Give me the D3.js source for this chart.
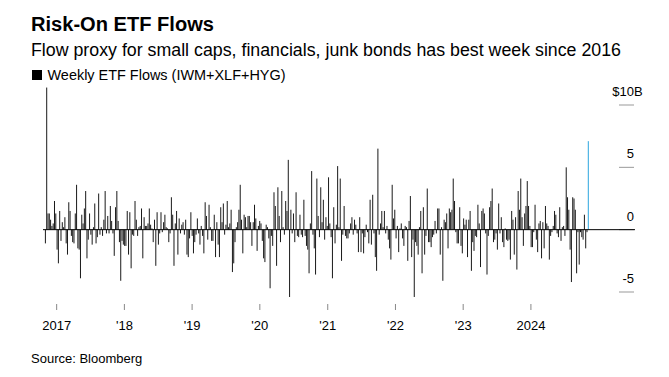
<!DOCTYPE html>
<html>
<head>
<meta charset="utf-8">
<script src="https://cdn.jsdelivr.net/npm/d3@7"></script>
<style>
  body { margin: 0; background: #fff; }
  svg { display: block; font-family: "Liberation Sans", Arial, sans-serif; }
</style>
</head>
<body>
<script>
// weekly flows, $B, first week ending Nov 4 2016, last week ending Nov 8 2024
const firstWeek = "2016-11-04";
const flows = [
  -1.1, 11.4, 1.3, 1.3, 0.8, 0.3, 0.5, 2.3, 1.3, -1.6, -2.7, 1.5, -0.9, 0.6, 0.2, 1.0, -1.1, -2.0, 2.2, 1.5,
  -0.5, -1.0, -1.1, 1.3, 3.6, -1.5, -1.6, -3.9, 1.2, 0.5, 1.7, 3.1, -2.3, -0.8, 1.3, -0.4, -1.2, 0.2, 2.1, -1.1,
  -0.6, 2.9, -0.4, 0.2, -0.5, 0.8, 3.1, -0.3, 1.1, -0.3, 1.9, 0.7, -0.3, -2.1,
  1.8, 3.1, 0.7, -1.0, -4.1, -0.9, -1.2, -1.3, -1.3, 1.5, -2.0, 1.4, -3.1, -0.4, -0.5, 2.3, 0.8, -0.5, 0.2, 0.3,
  1.7, -2.3, 1.0, 0.3, 0.3, 0.5, 1.7, 0.4, 0.1, -1.0, 0.8, -2.9, 1.4, -1.2, -0.3, 1.4, -0.2, 0.6, 1.2, 0.2,
  0.1, -1.0, -0.3, 2.6, 1.2, -2.9, 0.5, 1.5, -2.0, 0.9, -0.3, 0.4, 0.6, -0.4,
  0.8, -2.0, -2.2, -0.7, 1.4, -0.5, -1.9, -1.0, -0.4, 0.9, -0.3, -1.2, 0.3, -0.5, -1.9, 2.2, 1.1, -0.8, 2.0, 0.2,
  -0.9, -0.9, 1.2, -2.2, 0.6, -1.2, -2.2, 1.8, 0.6, 2.1, -0.4, 0.4, 2.3, 0.2, 0.5, 1.6, -3.4, -2.7, -1.0, 0.2,
  0.6, 1.6, 3.6, 0.8, -1.9, 1.2, 1.0, 0.2, 1.1, 1.1, 0.6, -1.3, 0.6, 2.0,
  0.9, -1.7, 0.3, 0.7, 0.5, -0.9, -2.3, -2.6, 0.4, 0.2, -0.7, -4.7, -0.5, -1.3, 3.0, 1.9, -2.9, 3.4, 1.1, -1.0,
  3.1, 0.2, -0.4, 2.3, 1.5, 5.6, -5.4, 1.6, -0.3, 1.3, -1.0, 3.0, -0.5, -0.6, 1.2, -0.4, -0.6, 2.4, -0.5, -1.3,
  -1.6, -3.5, 0.5, 4.7, -0.4, -1.5, -3.6, 4.1, 1.1, -0.6, 3.4, 0.6, 2.4, -0.8,
  1.0, 0.3, 4.2, 0.5, -0.6, -3.9, 1.8, -1.1, 0.4, 5.1, 0.2, 4.1, -2.5, -0.4, 1.9, -0.5, -0.7, -0.7, -0.3, 0.5,
  1.0, -0.4, 0.8, 0.4, -0.3, -1.8, 1.0, -1.8, -0.3, -1.9, -0.6, 0.4, -0.2, -1.1, 2.4, -1.2, 2.8, -0.3, -2.2, -3.3,
  6.5, -0.4, 0.5, 1.5, 0.2, 1.5, -0.3, 0.3, -0.8, -1.5, -2.4, 3.6, 0.9, 1.6,
  -0.7, 0.3, -1.8, 0.1, 0.5, -0.7, -1.3, 0.3, 0.2, -2.5, 0.7, 2.7, -2.2, -0.8, -5.4, -1.0, -1.3, -2.0, 0.2, 1.5,
  -3.5, 1.8, -2.0, -0.5, 3.3, -1.0, -1.0, -1.4, -0.6, -0.4, 0.7, -0.3, 1.7, 1.7, -2.0, 0.2, -4.1, 0.8, 0.6, 1.3,
  -1.5, 1.7, 1.4, 1.6, 4.1, 2.3, -0.2, -1.1, -1.1, 1.8, -1.3, -1.9, 0.9, 0.4,
  0.8, -2.2, 0.8, 1.5, -3.3, -1.0, -1.7, -0.5, -0.6, 2.0, 0.5, -3.0, 1.5, 1.7, 1.3, -0.3, -3.6, -0.5, 1.8, 2.3,
  3.3, -1.0, -0.8, -0.3, -1.6, 2.1, -0.3, 1.0, -1.0, -1.4, 0.1, -0.8, -0.9, -0.8, -2.4, 1.5, 0.8, -2.0, 1.0, -3.2,
  3.1, 1.6, 4.1, 1.0, -1.3, 1.3, 1.9, 3.9, 1.9, 0.3, -1.4, -1.4, -0.2, 2.0,
  -0.8, -1.8, 0.5, 0.7, -2.3, 0.6, -1.5, 1.9, 0.5, 0.3, -2.4, -0.5, -0.2, 0.3, 1.5, 1.2, -0.3, -0.6, 1.8, -0.9,
  0.2, 0.3, -0.5, 5.0, 2.6, 1.6, -1.6, -4.2, 2.6, 2.5, 1.6, -3.5, -0.2, -2.8, -0.2, -0.6, -0.8, 1.2, -1.5, -0.2,
  7.1
];

const yTicks = [-5, 0, 5, 10];
const yLabels = ["-5", "0", "5", "$10"];
const yearTicks = ["2017-01-01", "2018-01-01", "2019-01-01", "2020-01-01", "2021-01-01", "2022-01-01", "2023-01-01", "2024-01-01"];
const yearLabels = ["2017", "'18", "'19", "'20", "'21", "'22", "'23", "2024"];

const width = 669, height = 377;
const svg = d3.select("body").append("svg").attr("width", width).attr("height", height);

const parseDate = d3.timeParse("%Y-%m-%d");
const start = parseDate(firstWeek);
const data = flows.map((v, i) => ({ date: d3.timeWeek.offset(start, i), value: v }));

// scales
const xScale = d3.scaleTime()
  .domain([data[0].date, data[data.length - 1].date])
  .range([45.4, 588.3]);
const yScale = d3.scaleLinear().domain([-5, 10]).range([292, 105]);

// header
svg.append("text").attr("x", 31).attr("y", 30.5)
  .attr("font-size", 20).attr("font-weight", "bold")
  .attr("textLength", 183).attr("lengthAdjust", "spacingAndGlyphs")
  .text("Risk-On ETF Flows");
svg.append("text").attr("x", 31).attr("y", 56)
  .attr("font-size", 17.5)
  .attr("textLength", 590).attr("lengthAdjust", "spacingAndGlyphs")
  .text("Flow proxy for small caps, financials, junk bonds has best week since 2016");
svg.append("rect").attr("x", 32).attr("y", 70).attr("width", 10).attr("height", 10).attr("fill", "#000");
svg.append("text").attr("x", 47.5).attr("y", 80)
  .attr("font-size", 15.5)
  .attr("textLength", 238).attr("lengthAdjust", "spacingAndGlyphs")
  .text("Weekly ETF Flows (IWM+XLF+HYG)");

// y ticks on the right
const yAxis = svg.append("g").attr("class", "axis y");
yAxis.selectAll("line").data(yTicks).join("line")
  .attr("x1", 619).attr("x2", 634)
  .attr("y1", d => yScale(d)).attr("y2", d => yScale(d))
  .attr("stroke", "#999").attr("stroke-width", 1);
yAxis.selectAll("text").data(yTicks).join("text")
  .attr("x", 634).attr("y", d => yScale(d) - 9)
  .attr("text-anchor", "end").attr("font-size", 13)
  .text((d, i) => yLabels[i]);
yAxis.append("text")
  .attr("x", 634).attr("y", yScale(10) - 9)
  .attr("font-size", 13).text("B");

// x axis
const xAxis = d3.axisBottom(xScale)
  .tickValues(yearTicks.map(parseDate))
  .tickFormat((d, i) => yearLabels[i])
  .tickSize(6).tickPadding(11);
const gx = svg.append("g").attr("class", "axis x")
  .attr("transform", "translate(0, 304)")
  .call(xAxis);
gx.select(".domain").remove();
gx.selectAll("line").attr("stroke", "#888");
gx.selectAll("text").attr("font-size", 13).attr("fill", "#000")
  .attr("font-family", "Liberation Sans, Arial, sans-serif");

// bars
svg.append("g").selectAll("rect").data(data).join("rect")
  .attr("x", d => xScale(d.date) - 0.5)
  .attr("width", 1)
  .attr("y", d => yScale(Math.max(0, d.value)))
  .attr("height", d => Math.abs(yScale(d.value) - yScale(0)))
  .attr("fill", (d, i) => i === data.length - 1 ? "#2ca6df" : "#1a1a1a");

// zero line
svg.append("line")
  .attr("x1", 43).attr("x2", 635)
  .attr("y1", yScale(0)).attr("y2", yScale(0))
  .attr("stroke", "#000").attr("stroke-width", 1);

svg.append("text").attr("x", 31).attr("y", 363)
  .attr("font-size", 13).text("Source: Bloomberg");
</script>
</body>
</html>
